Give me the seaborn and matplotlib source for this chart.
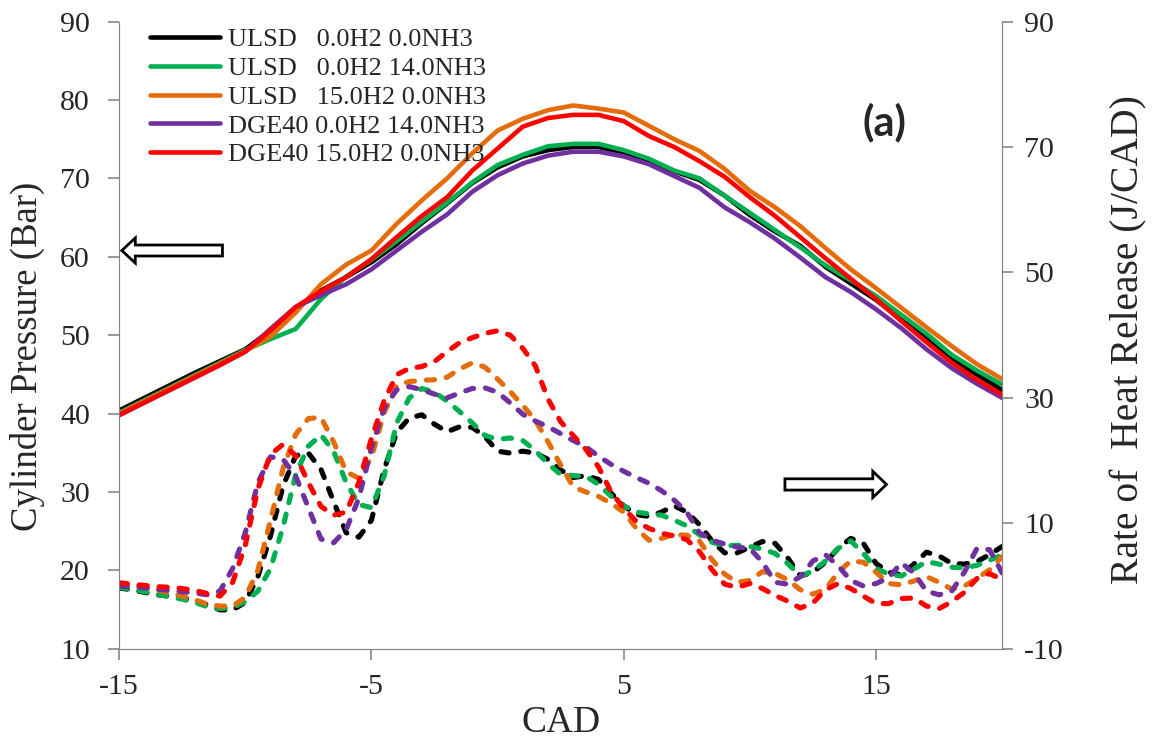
import numpy as np
import pandas as pd
import seaborn as sns
import matplotlib
matplotlib.use('Agg')
import matplotlib.pyplot as plt
from matplotlib.patches import FancyArrow

# Series names and colours.
labels = ["ULSD   0.0H2 0.0NH3",
          "ULSD   0.0H2 14.0NH3",
          "ULSD   15.0H2 0.0NH3",
          "DGE40 0.0H2 14.0NH3",
          "DGE40 15.0H2 0.0NH3"]
colors = ["#000000", "#00B050", "#E46C0A", "#7030A0", "#FF0000"]

# Cylinder pressure (bar), one value per CAD.
cad_p = list(range(-15, 21))
p_ulsd = [40.4, 42.0, 43.6, 45.2, 46.7, 48.2, 50.6, 53.4, 55.7, 57.4, 59.3, 61.6,
          64.3, 66.8, 69.4, 71.4, 72.8, 73.6, 74.0, 74.0, 73.3, 72.2, 70.9, 69.8,
          67.8, 65.3, 63.2, 61.4, 58.7, 56.6, 54.5, 52.0, 49.6, 47.0, 45.0, 43.0]
p_ulsd_nh3 = [40.1, 41.7, 43.3, 44.9, 46.5, 48.1, 49.5, 50.8, 54.6, 57.5, 59.6, 62.0,
              64.5, 66.9, 69.5, 71.7, 73.0, 74.1, 74.4, 74.4, 73.6, 72.5, 71.0, 70.0,
              67.8, 65.6, 63.4, 61.2, 58.9, 57.0, 55.0, 52.6, 50.2, 47.5, 45.5, 43.7]
p_ulsd_h2 = [40.0, 41.6, 43.2, 44.8, 46.4, 48.0, 49.8, 52.9, 56.5, 59.0, 60.8, 64.2,
             67.2, 70.0, 73.2, 76.1, 77.6, 78.7, 79.3, 78.9, 78.4, 76.7, 75.0, 73.5,
             71.2, 68.4, 66.3, 63.9, 61.1, 58.4, 56.0, 53.5, 51.0, 48.6, 46.3, 44.4]
p_dge_nh3 = [39.8, 41.4, 43.0, 44.6, 46.2, 47.9, 50.8, 53.6, 55.1, 56.5, 58.4, 60.8,
             63.2, 65.4, 68.3, 70.4, 71.9, 72.9, 73.4, 73.4, 72.8, 71.8, 70.3, 68.8,
             66.3, 64.4, 62.3, 59.9, 57.4, 55.5, 53.3, 50.9, 48.2, 45.8, 43.8, 42.0]
p_dge_h2 = [39.8, 41.4, 43.0, 44.6, 46.2, 47.9, 50.6, 53.6, 55.6, 57.4, 59.7, 62.5,
            65.2, 67.6, 71.0, 73.8, 76.6, 77.7, 78.1, 78.1, 77.3, 75.4, 74.0, 72.2,
            70.2, 67.6, 65.2, 62.5, 59.8, 57.2, 54.6, 51.8, 49.1, 46.5, 44.3, 42.4]

# Rate of heat release (J/CAD), one value per half CAD.
cad_r = [x / 2 for x in range(-30, 41)]
r_ulsd = [-0.3, -0.6, -1.0, -1.4, -1.6, -1.9, -2.3, -3.0, -3.8, -3.8, -2.6, 1.5,
          8.0, 16.0, 20.8, 21.2, 18.6, 13.5, 8.5, 7.8, 10.5, 18.5, 24.5, 26.8,
          27.3, 25.8, 24.6, 25.4, 25.3, 23.8, 21.5, 21.2, 21.5, 21.2, 20.2, 18.5,
          17.3, 17.6, 17.0, 14.8, 12.8, 11.4, 11.1, 11.8, 12.8, 11.8, 9.8, 7.2,
          5.3, 5.3, 6.2, 7.1, 6.8, 4.5, 1.6, 2.2, 3.8, 6.0, 7.6, 6.8,
          3.6, 2.2, 1.8, 3.5, 5.4, 4.8, 3.6, 3.5, 3.9, 5.0, 6.3]
r_ulsd_nh3 = [-0.2, -0.5, -0.9, -1.3, -1.7, -2.1, -2.6, -3.3, -3.6, -3.4, -2.5, -0.8,
              2.8, 9.5, 17.8, 22.3, 24.1, 21.5, 16.5, 13.0, 12.5, 17.5, 26.0, 30.0,
              31.5, 30.9, 29.5, 27.8, 26.0, 24.0, 23.4, 23.6, 23.2, 21.6, 19.5, 17.8,
              17.6, 17.5, 16.2, 14.3, 12.8, 11.8, 11.5, 11.3, 10.5, 9.6, 8.2, 7.0,
              6.4, 6.5, 6.3, 5.9, 5.2, 3.6, 1.6, 2.4, 4.0, 6.0, 7.2, 5.2,
              2.8, 1.9, 1.6, 2.7, 3.9, 3.5, 3.0, 2.9, 3.3, 4.1, 5.0]
r_ulsd_h2 = [0.5, 0.2, -0.2, -0.6, -1.1, -1.6, -2.2, -2.9, -3.2, -3.2, -1.8, 2.5,
             10.5, 18.8, 24.2, 26.7, 26.9, 23.0, 18.2, 17.2, 20.5, 27.6, 32.0, 32.6,
             32.8, 32.9, 33.3, 34.6, 35.6, 34.9, 33.0, 31.0, 28.8, 26.4, 23.0, 19.3,
             15.8, 15.0, 14.3, 13.2, 11.8, 9.2, 7.3, 7.6, 8.2, 8.1, 7.2, 4.2,
             1.9, 0.6, 0.9, 2.3, 2.0, 1.0, -0.6, -1.3, -0.5, 2.2, 4.0, 3.8,
             2.2, 0.4, 0.2, 0.8, 1.5, 0.6, -0.5, 0.0, 1.2, 2.6, 4.7]
r_dge_nh3 = [0.0, -0.1, -0.3, -0.5, -0.7, -0.9, -1.1, -1.4, -0.8, 2.8, 8.5, 16.5,
             20.6, 20.2, 17.5, 12.5, 7.5, 6.9, 9.0, 14.0, 22.0, 28.3, 31.3, 31.8,
             31.3, 30.6, 30.0, 30.8, 31.5, 31.6, 30.9, 29.2, 27.4, 26.3, 25.4, 24.3,
             23.2, 22.2, 20.7, 19.4, 18.3, 17.3, 16.4, 15.2, 13.7, 11.8, 8.5, 7.3,
             6.7, 6.2, 6.0, 3.8, 0.6, 0.3, 1.5, 4.0, 5.0, 3.2, 0.9, 0.0,
             0.4, 1.3, 3.7, 2.1, -0.8, -1.4, -0.8, 2.2, 6.0, 5.8, 2.1]
r_dge_h2 = [0.5, 0.3, 0.1, -0.1, -0.2, -0.4, -0.7, -1.2, -1.6, 0.6, 6.5, 15.5,
            21.0, 22.6, 20.8, 16.5, 12.7, 11.3, 11.8, 16.5, 23.5, 29.5, 33.7, 34.7,
            35.0, 35.8, 37.4, 38.8, 39.6, 40.3, 40.7, 40.0, 37.9, 35.1, 29.8, 26.2,
            24.0, 21.8, 19.0, 15.0, 12.4, 10.3, 9.2, 8.4, 8.0, 7.4, 5.5, 2.6,
            0.3, -0.2, 0.4, -0.4, -1.5, -2.4, -3.5, -2.7, -0.6, 0.4, -0.4, -1.6,
            -2.8, -2.8, -2.0, -1.9, -3.2, -3.6, -2.5, -1.0, 1.2, 2.0, 1.0]

pressures = [p_ulsd, p_ulsd_nh3, p_ulsd_h2, p_dge_nh3, p_dge_h2]
rhrs = [r_ulsd, r_ulsd_nh3, r_ulsd_h2, r_dge_nh3, r_dge_h2]

sns.set_style("white")
plt.rcParams['font.family'] = ['Liberation Serif', 'DejaVu Serif']
plt.rcParams['axes.edgecolor'] = '#868686'
plt.rcParams['axes.unicode_minus'] = False

fig = plt.figure(figsize=(11.68, 7.44), dpi=100)
ax = fig.add_axes([0.102, 0.128, 0.756, 0.843])
ax2 = ax.twinx()

handles = []
for label, color, p, r in zip(labels, colors, pressures, rhrs):
    df_p = pd.DataFrame({"CAD": cad_p, "P": p})
    sns.lineplot(data=df_p, x="CAD", y="P", ax=ax, color=color, lw=3.3,
                 legend=False, solid_capstyle='round')
    handles.append(ax.lines[-1])
    df_r = pd.DataFrame({"CAD": cad_r, "R": r})
    sns.lineplot(data=df_r, x="CAD", y="R", ax=ax2, color=color, lw=3.7,
                 legend=False)
    line = ax2.lines[-1]
    line.set_dashes((1.6, 2.3))
    line.set_dash_capstyle('round')

ax.set_xlim(-15, 20)
ax.set_ylim(10, 90)
ax2.set_ylim(-10, 90)
ax.set_xticks([-15, -5, 5, 15])
ax.set_yticks(np.arange(10, 91, 10))
ax2.set_yticks(np.arange(-10, 91, 20))

ax.set_xlabel("CAD", fontsize=27, labelpad=4)
ax.set_ylabel("Cylinder Pressure (Bar)", fontsize=26.5)
ax2.set_ylabel("Rate of  Heat Release (J/CAD)", fontsize=28.5)
ax.yaxis.set_label_coords(-0.084, 0.466)
ax2.yaxis.set_label_coords(1.122, 0.493)

for a in (ax, ax2):
    a.spines['top'].set_visible(False)
    a.tick_params(axis='both', direction='out', length=8, width=1.2,
                  color='#868686', labelsize=21.5)
ax.tick_params(axis='y', pad=13, left=True)
ax.tick_params(axis='x', pad=10, bottom=True)
ax2.tick_params(axis='y', pad=8, right=True)

ax.legend(handles, labels, loc='upper left', bbox_to_anchor=(0.035, 0.99),
          frameon=False, fontsize=19, handlelength=2.65, handletextpad=0.3,
          labelspacing=0.2, borderpad=0, borderaxespad=0)

# Direction arrows pointing to the axis of each curve family.
ax.add_patch(FancyArrow(0.117, 0.635, -0.114, 0, width=0.0175,
                        head_width=0.040, head_length=0.0153,
                        length_includes_head=True, transform=ax.transAxes,
                        facecolor='white', edgecolor='black', lw=2,
                        clip_on=False))
ax.add_patch(FancyArrow(0.754, 0.262, 0.115, 0, width=0.018,
                        head_width=0.042, head_length=0.0155,
                        length_includes_head=True, transform=ax.transAxes,
                        facecolor='white', edgecolor='black', lw=2,
                        clip_on=False))

ax.text(0.867, 0.84, "(a)", transform=ax.transAxes, fontsize=30,
        fontweight='bold', family=['Lato', 'DejaVu Sans'],
        ha='center', va='center')

fig.savefig("out.png", dpi=100)
plt.close()
